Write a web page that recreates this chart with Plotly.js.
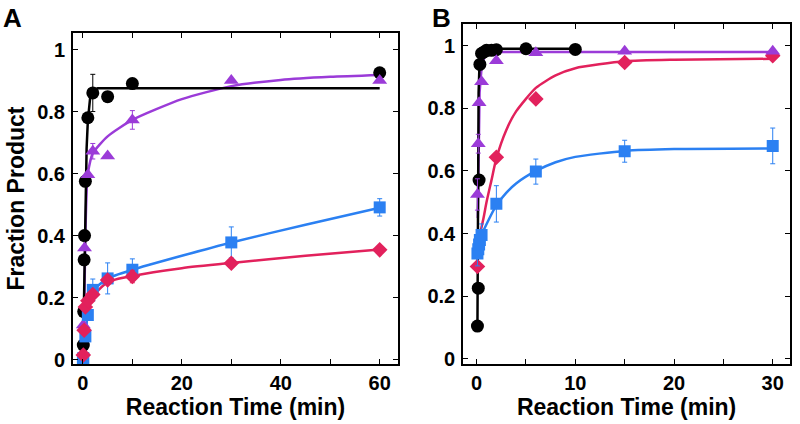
<!DOCTYPE html>
<html>
<head>
<meta charset="utf-8">
<script src="https://cdn.plot.ly/plotly-3.0.1.min.js"></script>
<style>html,body{margin:0;padding:0;background:#fff;}#chart{width:800px;height:424px;}</style>
</head>
<body>
<div id="chart"></div>
<script>
// ---------- Panel A data ----------
const aBlackX = [0.083, 0.167, 0.25, 0.33, 0.5, 1, 2, 5, 10, 60];
const aBlackY = [0.047, 0.155, 0.322, 0.40, 0.575, 0.78, 0.86, 0.848, 0.89, 0.925];
const aBlackErr = [0, 0, 0, 0, 0, 0, 0.06, 0, 0.015, 0];
const aPurpleX = [0.083, 0.33, 1, 2, 5, 10, 30, 60];
const aPurpleY = [0.112, 0.36, 0.596, 0.672, 0.657, 0.773, 0.90, 0.90];
const aPurpleErr = [0, 0, 0, 0.025, 0, 0.03, 0, 0];
const aBlueX = [0, 0.083, 0.5, 1, 2, 5, 10, 30, 60];
const aBlueY = [-0.005, 0.005, 0.075, 0.144, 0.225, 0.262, 0.29, 0.378, 0.491];
const aBlueErr = [0, 0, 0, 0, 0.035, 0.05, 0.035, 0.05, 0.028];
const aRedX = [0.083, 0.25, 0.5, 1, 2, 5, 10, 30, 60];
const aRedY = [0.015, 0.095, 0.17, 0.19, 0.21, 0.257, 0.268, 0.311, 0.354];
const aRedErr = [0, 0, 0, 0, 0, 0, 0.02, 0, 0];
// fitted curves
const aBlackFitX = [0.05, 0.3, 0.5, 0.75, 1, 1.25, 1.5, 2, 3, 60];
const aBlackFitY = [0.03, 0.3, 0.52, 0.68, 0.77, 0.82, 0.85, 0.868, 0.875, 0.875];
const aPurpleFitX = [0.1, 0.3, 0.5, 0.8, 1, 2, 5, 10, 20, 30, 40, 50, 60];
const aPurpleFitY = [0.1, 0.2, 0.4, 0.56, 0.6, 0.665, 0.72, 0.773, 0.84, 0.882, 0.902, 0.912, 0.918];
const aBlueFitX = [0.5, 0.7, 1, 1.5, 2, 5, 10, 20, 30, 45, 60];
const aBlueFitY = [0.0, 0.1, 0.16, 0.2, 0.222, 0.262, 0.29, 0.335, 0.378, 0.435, 0.49];
const aRedFitX = [0.1, 0.5, 1, 2, 5, 10, 20, 30, 45, 60];
const aRedFitY = [0.155, 0.17, 0.185, 0.205, 0.25, 0.27, 0.295, 0.312, 0.335, 0.355];

// ---------- Panel B data ----------
const bBlackX = [0.083, 0.167, 0.25, 0.33, 0.5, 0.75, 1, 1.5, 2, 5, 10];
const bBlackY = [0.105, 0.226, 0.571, 0.94, 0.975, 0.98, 0.985, 0.985, 0.987, 0.99, 0.988];
const bPurpleX = [0.083, 0.167, 0.25, 0.5, 2, 6, 15, 30];
const bPurpleY = [0.525, 0.687, 0.818, 0.885, 0.952, 0.977, 0.982, 0.982];
const bPurpleErr = [0.05, 0.03, 0, 0, 0, 0, 0, 0];
const bRedX = [0.083, 2, 6, 15, 30];
const bRedY = [0.295, 0.644, 0.83, 0.946, 0.968];
const bBlueX = [0.083, 0.167, 0.25, 0.33, 0.5, 2, 6, 15, 30];
const bBlueY = [0.337, 0.35, 0.365, 0.38, 0.396, 0.495, 0.598, 0.663, 0.68];
const bBlueErr = [0.04, 0, 0, 0, 0.035, 0.058, 0.04, 0.035, 0.057];
const bBlackFitX = [0.083, 0.12, 0.2, 0.3, 0.5, 1, 10];
const bBlackFitY = [0.1, 0.5, 0.85, 0.95, 0.98, 0.99, 0.99];
const bPurpleFitX = [0.12, 0.2, 0.3, 0.5, 0.8, 1.2, 2, 30];
const bPurpleFitY = [0.45, 0.72, 0.85, 0.93, 0.965, 0.978, 0.98, 0.98];
const bRedFitX = [0.35, 0.7, 1, 1.5, 2, 3, 4, 6, 8, 10, 15, 20, 30];
const bRedFitY = [0.4, 0.45, 0.5, 0.57, 0.64, 0.73, 0.79, 0.865, 0.905, 0.928, 0.95, 0.955, 0.958];
const bBlueFitX = [0.1, 0.3, 0.5, 1, 2, 3, 4, 6, 8, 10, 15, 20, 30];
const bBlueFitY = [0.33, 0.37, 0.395, 0.43, 0.49, 0.53, 0.56, 0.6, 0.628, 0.645, 0.664, 0.67, 0.672];

// ---------- tick labels ----------
const yTickVals = [0, 0.2, 0.4, 0.6, 0.8, 1];
const yTickText = ['0', '0.2', '0.4', '0.6', '0.8', '1'];
const aXTickVals = [0, 10, 20, 30, 40, 50, 60];
const aXTickText = ['0', '', '20', '', '40', '', '60'];
const bXTickVals = [0, 5, 10, 15, 20, 25, 30];
const bXTickText = ['0', '', '10', '', '20', '', '30'];

const BLACK = '#000000', PURPLE = '#9b3bd8', RED = '#e2215c', BLUE = '#2b80f2';

function fit(x, y, color, xa, ya, shape) {
  return {x, y, xaxis: xa, yaxis: ya, mode: 'lines', type: 'scatter',
    line: {color, width: 2.5, shape: shape || 'spline', smoothing: 0.6}, hoverinfo: 'skip'};
}
function pts(x, y, err, color, symbol, size, xa, ya) {
  const t = {x, y, xaxis: xa, yaxis: ya, mode: 'markers', type: 'scatter',
    marker: {color, symbol, size, line: {width: 0}}};
  if (err) t.error_y = {type: 'data', array: err, visible: true, color, thickness: 1, width: 2.5};
  return t;
}

const data = [
  fit(aBlueFitX, aBlueFitY, BLUE, 'x', 'y'),
  fit(aRedFitX, aRedFitY, RED, 'x', 'y'),
  fit(aPurpleFitX, aPurpleFitY, PURPLE, 'x', 'y'),
  fit(aBlackFitX, aBlackFitY, BLACK, 'x', 'y', 'linear'),
  pts(aBlackX, aBlackY, aBlackErr, BLACK, 'circle', 13, 'x', 'y'),
  pts(aPurpleX, aPurpleY, aPurpleErr, PURPLE, 'triangle-up', 13, 'x', 'y'),
  pts(aBlueX, aBlueY, aBlueErr, BLUE, 'square', 12, 'x', 'y'),
  pts(aRedX, aRedY, aRedErr, RED, 'diamond', 12, 'x', 'y'),

  fit(bBlueFitX, bBlueFitY, BLUE, 'x2', 'y2'),
  fit(bRedFitX, bRedFitY, RED, 'x2', 'y2'),
  fit(bPurpleFitX, bPurpleFitY, PURPLE, 'x2', 'y2', 'linear'),
  fit(bBlackFitX, bBlackFitY, BLACK, 'x2', 'y2', 'linear'),
  pts(bBlackX, bBlackY, null, BLACK, 'circle', 13, 'x2', 'y2'),
  pts(bRedX, bRedY, null, RED, 'diamond', 12, 'x2', 'y2'),
  pts(bPurpleX, bPurpleY, bPurpleErr, PURPLE, 'triangle-up', 13, 'x2', 'y2'),
  pts(bBlueX, bBlueY, bBlueErr, BLUE, 'square', 12, 'x2', 'y2')
];

const FONT = 'Liberation Sans, Arial, Helvetica, sans-serif';
const tickFont = {family: FONT, size: 20, color: '#000', weight: 'bold'};
const titleFont = {family: FONT, size: 23, color: '#000', weight: 'bold'};
const common = {showline: true, linecolor: '#000', linewidth: 2, mirror: 'ticks',
  ticks: 'inside', ticklen: 5, tickwidth: 1, tickcolor: '#000', showgrid: false,
  zeroline: false, tickfont: tickFont, tickmode: 'array'};

const layout = {
  width: 800, height: 424,
  margin: {l: 0, r: 0, t: 0, b: 0},
  paper_bgcolor: '#fff', plot_bgcolor: '#fff',
  showlegend: false,
  xaxis: Object.assign({}, common, {domain: [0.09125, 0.4975], range: [-2, 63.7],
    tickvals: aXTickVals, ticktext: aXTickText, anchor: 'y',
    title: {text: 'Reaction Time (min)', font: titleFont, standoff: 2}}),
  yaxis: Object.assign({}, common, {domain: [0.1415, 0.922], range: [-0.014, 1.053],
    tickvals: yTickVals, ticktext: yTickText, anchor: 'x', ticklabelstandoff: 2,
    title: {text: 'Fraction Product', font: titleFont, standoff: 6}}),
  xaxis2: Object.assign({}, common, {domain: [0.579, 0.9875], range: [-1.36, 31.75],
    tickvals: bXTickVals, ticktext: bXTickText, anchor: 'y2',
    title: {text: 'Reaction Time (min)', font: titleFont, standoff: 5}}),
  yaxis2: Object.assign({}, common, {domain: [0.1415, 0.9434], range: [-0.016, 1.069],
    tickvals: yTickVals, ticktext: yTickText, anchor: 'x2', ticklabelstandoff: 2}),
  annotations: [
    {text: 'A', xref: 'paper', yref: 'paper', x: 1 / 800, y: 1 - 1 / 424, xanchor: 'left', yanchor: 'top',
      showarrow: false, font: {family: FONT, size: 26, color: '#000', weight: 'bold'}},
    {text: 'B', xref: 'paper', yref: 'paper', x: 430 / 800, y: 1 - 1 / 424, xanchor: 'left', yanchor: 'top',
      showarrow: false, font: {family: FONT, size: 26, color: '#000', weight: 'bold'}}
  ]
};

Plotly.newPlot('chart', data, layout, {displayModeBar: false, staticPlot: true});
</script>
</body>
</html>
